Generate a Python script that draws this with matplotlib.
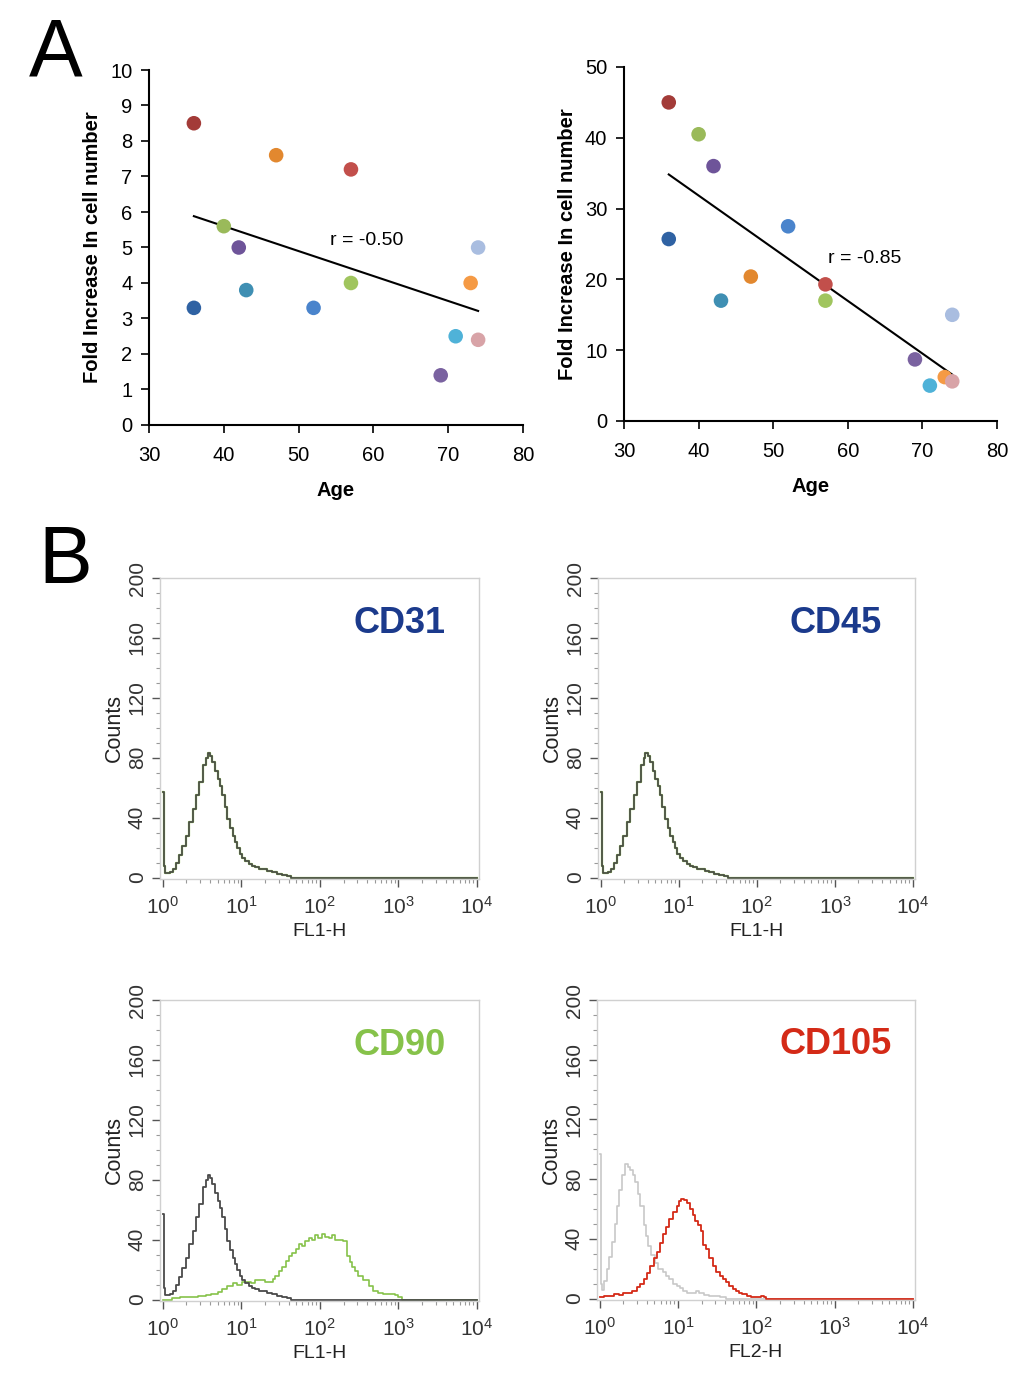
import matplotlib
matplotlib.use("Agg")
import matplotlib.pyplot as plt
import numpy as np
from matplotlib.ticker import MultipleLocator, LogLocator, NullFormatter

plt.rcParams['font.family'] = ['Liberation Sans', 'DejaVu Sans']

# ---- panel A data ----
age = [36, 36, 40, 42, 43, 47, 52, 57, 57, 69, 71, 73, 74, 74]
fold_left = [8.5, 3.3, 5.6, 5.0, 3.8, 7.6, 3.3, 7.2, 4.0, 1.4, 2.5, 4.0, 5.0, 2.4]
fold_right = [45.0, 25.7, 40.5, 36.0, 17.0, 20.4, 27.5, 19.3, 17.0, 8.7, 5.0, 6.2, 15.0, 5.6]
dot_colors = ['#a33b38', '#2f62a3', '#9aba5a', '#6e5499', '#3f8fb3', '#e2882f', '#4a84cc',
              '#c24f4b', '#a0c55e', '#7a62a0', '#4fb2d8', '#f59a45', '#a9bde0', '#d8a3a7']
r_left = '-0.50'
r_right = '-0.85'

# ---- panel B data (log10 of fluorescence, counts) ----
iso_x = [0.0, 0.01, 0.02, 0.03, 0.06, 0.09, 0.13, 0.17, 0.21, 0.25, 0.29, 0.34, 0.38, 0.42, 0.46,
         0.51, 0.55, 0.57, 0.60, 0.63, 0.67, 0.70, 0.73, 0.76, 0.79, 0.82, 0.86, 0.89, 0.92,
         0.95, 0.98, 1.01, 1.05, 1.10, 1.14, 1.18, 1.23, 1.27, 1.33, 1.39, 1.45, 1.52, 1.58, 1.63, 4.0]
iso_y = [57, 30, 8, 3, 3, 4, 6, 10, 15, 21, 28, 37, 46, 55, 64,
         75, 80, 83, 81, 77, 71, 66, 61, 55, 47, 39, 33, 28, 24,
         20, 16, 13, 11, 9, 8, 7, 6, 5.6, 4.5, 3.4, 2.5, 1.6, 1, 0, 0]

cd90_x = [0.0, 0.12, 0.22, 0.34, 0.45, 0.55, 0.62, 0.70, 0.76, 0.82, 0.89, 0.95, 1.01, 1.07, 1.12,
          1.18, 1.24, 1.30, 1.35, 1.40, 1.43, 1.48, 1.52, 1.57, 1.61, 1.65, 1.70, 1.74, 1.77,
          1.81, 1.86, 1.90, 1.94, 1.98, 2.03, 2.07, 2.11, 2.15, 2.19, 2.24, 2.30, 2.34, 2.38,
          2.41, 2.45, 2.49, 2.55, 2.62, 2.68, 2.74, 2.80, 2.87, 2.95, 3.0, 3.04, 4.0]
cd90_y = [0, 1, 1.5, 2, 2.5, 3, 4, 5, 7, 9, 11, 10, 12, 12, 11,
          13, 13, 12, 12, 14, 16, 19, 22, 26, 29, 31, 34, 37, 36,
          39, 41, 40, 43, 41, 44, 42, 41, 43, 40, 40, 39, 29, 25,
          22, 19, 16, 13, 9, 6, 4.5, 3.5, 3.4, 2.7, 2, 0, 0]

cd105_iso_x = [0.0, 0.01, 0.02, 0.03, 0.06, 0.09, 0.12, 0.16, 0.19, 0.22, 0.25, 0.28, 0.32, 0.36,
               0.39, 0.42, 0.45, 0.49, 0.52, 0.56, 0.59, 0.62, 0.66, 0.70, 0.75, 0.81, 0.85,
               0.89, 0.94, 0.98, 1.02, 1.06, 1.12, 1.19, 1.23, 1.27, 1.33, 1.40, 1.46, 1.53, 1.61, 4.0]
cd105_iso_y = [97, 51, 10, 6, 12, 20, 28, 38, 50, 62, 73, 83, 90, 88,
               86, 83, 78, 70, 62, 49, 42, 35, 29, 24, 20, 17.5, 15,
               13, 10, 8.5, 7, 5, 4, 3.6, 5, 4, 2.5, 1.8, 2, 1.3, 0, 0]

cd105_x = [0.0, 0.06, 0.12, 0.18, 0.24, 0.30, 0.35, 0.41, 0.47, 0.52, 0.56, 0.60, 0.64, 0.69,
           0.73, 0.77, 0.81, 0.85, 0.89, 0.94, 0.98, 1.01, 1.04, 1.08, 1.11, 1.15, 1.19, 1.22,
           1.25, 1.29, 1.32, 1.36, 1.40, 1.45, 1.49, 1.53, 1.57, 1.61, 1.65, 1.70, 1.74, 1.78,
           1.82, 1.88, 1.93, 2.01, 2.06, 2.10, 2.12, 4.0]
cd105_y = [1.3, 1.5, 2, 3, 2.5, 4, 4, 5, 7.4, 10, 13, 17, 22, 27,
           31, 37, 43, 48, 53, 58, 62, 65, 67, 66, 64, 60, 56, 52,
           49, 45, 36, 33, 27, 22, 17.5, 15, 13, 11, 8.5, 6.5, 5, 4,
           3, 2, 1.3, 0.7, 1.5, 1.3, 0, 0]

W, H = 1028, 1376
fig = plt.figure(figsize=(W / 100, H / 100), dpi=100, facecolor='white')


def frac(left, top, right, bottom):
    return [left / W, 1 - bottom / H, (right - left) / W, (bottom - top) / H]


def scatter_panel(rect, ys, ymax, ystep, r_txt, r_pos):
    ax = fig.add_axes(rect)
    ax.scatter(age, ys, s=110, c=dot_colors, zorder=3, linewidths=0)
    k, b = np.polyfit(age, ys, 1)
    xs = np.array([min(age), max(age)])
    ax.plot(xs, k * xs + b, color='black', lw=1.5, zorder=2)
    ax.set_xlim(30, 80)
    ax.set_ylim(0, ymax)
    ax.set_xticks(range(30, 81, 10))
    ax.set_yticks(np.arange(0, ymax + 0.1, ystep))
    for s in ['top', 'right']:
        ax.spines[s].set_visible(False)
    for s in ['left', 'bottom']:
        ax.spines[s].set_linewidth(1.5)
    ax.tick_params(axis='both', labelsize=14.5, width=1.2, length=6, direction='out', colors='black')
    ax.tick_params(axis='x', pad=9)
    ax.tick_params(axis='y', pad=6)
    ax.set_xlabel('Age', fontsize=14.5, fontweight='bold', labelpad=12)
    ax.set_ylabel('Fold Increase In cell number', fontsize=14.5, fontweight='bold', labelpad=6)
    ax.text(r_pos[0], r_pos[1], 'r = ' + r_txt, fontsize=14, ha='left', va='center')
    return ax


scatter_panel(frac(149, 70, 523, 425), fold_left, 10, 1, r_left, (54.2, 5.2))
scatter_panel(frac(624, 67, 997, 421), fold_right, 50, 10, r_right, (57.3, 22.9))


def hist_panel(rect, curves, label, label_color, xlabel):
    ax = fig.add_axes(rect)
    for xs, ys, col, lw in curves:
        ax.plot(10 ** np.array(xs), ys, color=col, lw=lw, drawstyle='steps-post')
    ax.set_xscale('log')
    ax.set_xlim(10 ** -0.035, 10 ** 4.025)
    ax.set_ylim(-1, 200)
    ax.set_yticks(range(0, 201, 40))
    ax.yaxis.set_minor_locator(MultipleLocator(10))
    ax.xaxis.set_major_locator(LogLocator(base=10, numticks=10))
    ax.xaxis.set_minor_locator(LogLocator(base=10, subs=np.arange(2, 10), numticks=10))
    ax.xaxis.set_minor_formatter(NullFormatter())
    for s in ax.spines.values():
        s.set_color('#d0d0d0')
        s.set_linewidth(1.0)
    ax.tick_params(axis='both', which='major', labelsize=15, length=6, width=1.0,
                   color='#555555', labelcolor='#333333')
    ax.tick_params(axis='x', which='major', pad=6)
    ax.tick_params(axis='both', which='minor', length=3, width=0.8, color='#999999')
    for t in ax.get_yticklabels():
        t.set_rotation(90)
        t.set_va('center')
    ax.set_ylabel('Counts', fontsize=15.5, color='#222222', labelpad=2)
    ax.set_xlabel(xlabel, fontsize=14, color='#222222', labelpad=4)
    ax.text(0.75, 0.85, label, transform=ax.transAxes, fontsize=26, fontweight='bold',
            color=label_color, ha='center', va='center')
    return ax


dark = '#4a4a4a'
hist_panel(frac(160, 578, 479, 879),
           [(iso_x, iso_y, '#8cc34a', 1.6), (iso_x, iso_y, dark, 1.2)],
           'CD31', '#1b3a8c', 'FL1-H')
hist_panel(frac(598, 578, 915, 879),
           [(iso_x, iso_y, '#8cc34a', 1.6), (iso_x, iso_y, dark, 1.2)],
           'CD45', '#1b3a8c', 'FL1-H')
hist_panel(frac(160, 1000, 479, 1301),
           [(cd90_x, cd90_y, '#86c24a', 1.2), (iso_x, iso_y, dark, 1.3)],
           'CD90', '#86c24a', 'FL1-H')
hist_panel(frac(597, 1000, 915, 1300),
           [(cd105_iso_x, cd105_iso_y, '#c8c8c8', 1.2), (cd105_x, cd105_y, '#d42a17', 1.3)],
           'CD105', '#d42a17', 'FL2-H')

fig.text(56 / W, 1 - 55 / H, 'A', fontsize=58, ha='center', va='center')
fig.text(65 / W, 1 - 562 / H, 'B', fontsize=58, ha='center', va='center')

fig.savefig('out.png', dpi=100, facecolor='white')
